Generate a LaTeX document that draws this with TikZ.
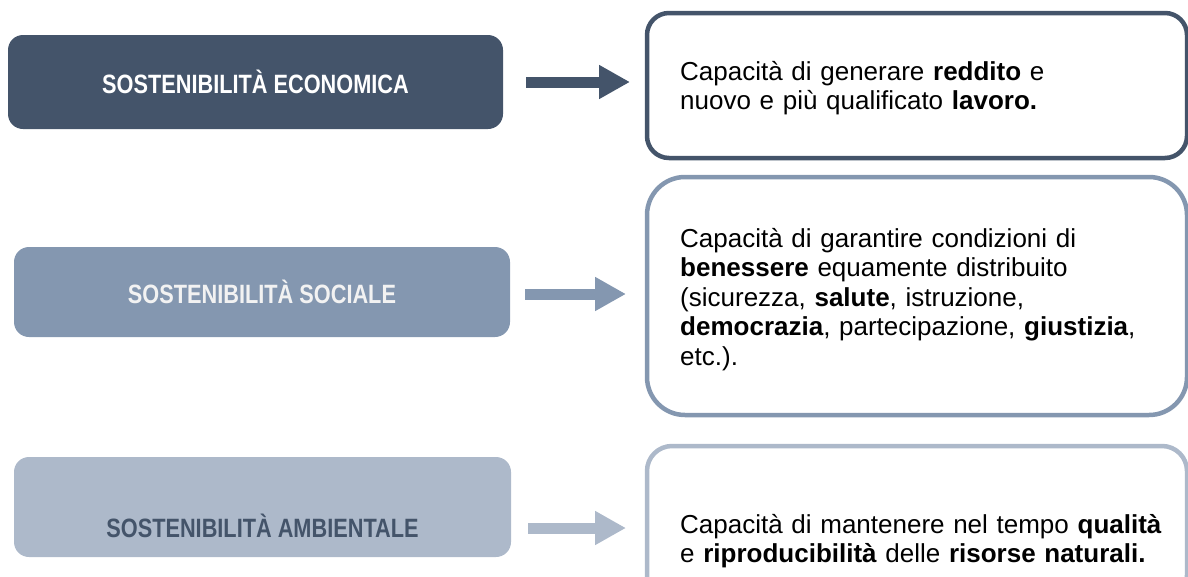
\documentclass[tikz,border=0pt]{standalone}
\usepackage{fontspec}
\setmainfont{Liberation Sans}
\newfontfamily\labelfont[FakeStretch=0.82]{Liberation Sans}
\usetikzlibrary{arrows.meta}
\definecolor{dk}{HTML}{44546A}
\definecolor{md}{HTML}{8497B0}
\definecolor{lt}{HTML}{ADB9CA}
\definecolor{offw}{HTML}{F2F2F2}
\tikzset{
  leftbox/.style={rounded corners=15pt, inner sep=0pt, draw=none,
    font=\labelfont\bfseries\fontsize{26.5}{30}\selectfont, align=center},
  rightbox/.style={draw, line width=4.5pt, fill=white, inner sep=0pt},
  body/.style={font=\fontsize{26}{29.5}\selectfont, align=left, text width=510pt,
    anchor=base west, inner sep=0pt},
  blockarrow/.style={line width=11pt, -{Triangle[length=31pt,width=32pt]}},
}
\begin{document}
\begin{tikzpicture}[x=1pt,y=-1pt]
\useasboundingbox (0,0) rectangle (1188,576);
% left boxes
\node[leftbox, fill=dk, text=white, minimum width=495pt, minimum height=94pt] (eco) at (255.5,82) {SOSTENIBILITÀ ECONOMICA};
\node[leftbox, fill=md, text=offw, minimum width=496pt, minimum height=90pt] (soc) at (262,292) {SOSTENIBILITÀ SOCIALE};
\node[leftbox, fill=lt, minimum width=497pt, minimum height=100pt] (amb) at (262.5,507) {};
\node[font=\labelfont\bfseries\fontsize{26.5}{30}\selectfont, text=dk, inner sep=0pt, anchor=base] (ambt) at (262.5,537) {SOSTENIBILITÀ AMBIENTALE};
% right boxes
\node[rightbox, draw=dk, rounded corners=22pt, minimum width=540pt, minimum height=145pt] (r1) at (917,85.5) {};
\node[rightbox, draw=md, rounded corners=38pt, minimum width=540pt, minimum height=238pt] (r2) at (917,296) {};
\node[rightbox, draw=lt, rounded corners=25pt, minimum width=540pt, minimum height=154pt] (r3) at (917,523) {};
% texts
\node[body] (t1) at (680,80) {Capacità di generare \textbf{reddito} e\\nuovo e più qualificato \textbf{lavoro.}};
\node[body] (t2) at (680,247) {Capacità di garantire condizioni di\\\textbf{benessere} equamente distribuito\\(sicurezza, \textbf{salute}, istruzione,\\\textbf{democrazia}, partecipazione, \textbf{giustizia},\\etc.).};
\node[body] (t3) at (680,533) {Capacità di mantenere nel tempo \textbf{qualità}\\e \textbf{riproducibilità} delle \textbf{risorse naturali.}};
% arrows
\coordinate (a1s) at (526,82);
\coordinate (a1e) at (630,82);
\coordinate (a2s) at (525,294);
\coordinate (a2e) at (626,294);
\coordinate (a3s) at (528,528);
\coordinate (a3e) at (626,528);
\draw[blockarrow, draw=dk] (a1s) -- (a1e);
\draw[blockarrow, draw=md] (a2s) -- (a2e);
\draw[blockarrow, draw=lt] (a3s) -- (a3e);
\end{tikzpicture}
\end{document}
